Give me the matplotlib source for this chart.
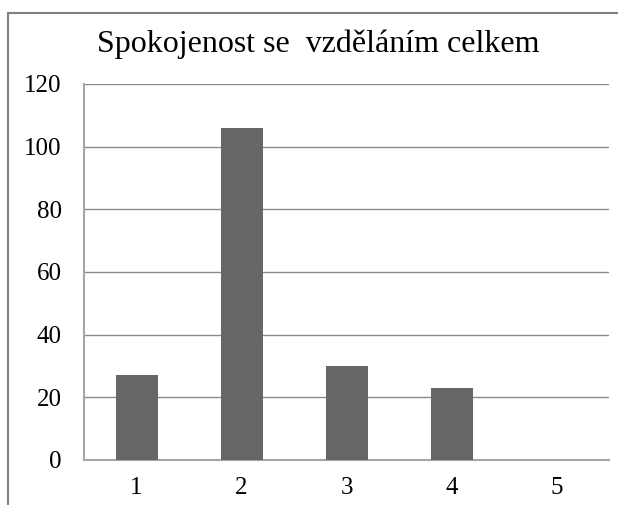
import matplotlib
matplotlib.use("Agg")
import matplotlib.pyplot as plt
from matplotlib.patches import Rectangle

categories = ["1", "2", "3", "4", "5"]
values = [27, 106, 30, 23, 0]
yticks = [0, 20, 40, 60, 80, 100, 120]
title = "Spokojenost se  vzděláním celkem"

plt.rcParams['font.family'] = ['Liberation Serif', 'DejaVu Serif']

W, H = 618, 505
fig = plt.figure(figsize=(W / 100, H / 100), dpi=100)
# outer chart frame
fig.patches.append(Rectangle((8 / W, -0.05), 1.1, (H - 13) / H + 0.05,
                             transform=fig.transFigure, fill=False,
                             edgecolor="#808080", linewidth=1.5))

left, right, top, bottom = 84, 609, 84, 460
ax = fig.add_axes([left / W, 1 - bottom / H, (right - left) / W, (bottom - top) / H])

x = list(range(len(categories)))
ax.bar(x, values, width=0.4, color="#666666", zorder=3)
ax.set_xlim(-0.5, len(categories) - 0.5)
ax.set_ylim(0, 120)
ax.set_yticks(yticks)
ax.set_xticks(x)
ax.set_xticklabels(categories)
ax.yaxis.grid(True, color="#8a8a8a", linewidth=1.0, zorder=0)
ax.tick_params(axis="both", length=0, labelsize=18, colors="black")
ax.tick_params(axis="y", pad=16)
ax.tick_params(axis="x", pad=12)
for s in ["top", "right"]:
    ax.spines[s].set_visible(False)
ax.spines["left"].set_color("#a6a6a6")
ax.spines["left"].set_linewidth(1.5)
ax.spines["bottom"].set_color("#a6a6a6")
ax.spines["bottom"].set_linewidth(1.5)

fig.text(318 / W, 1 - 44 / H, title, ha="center", va="center",
         fontsize=23)

fig.savefig("out.png", dpi=100)
